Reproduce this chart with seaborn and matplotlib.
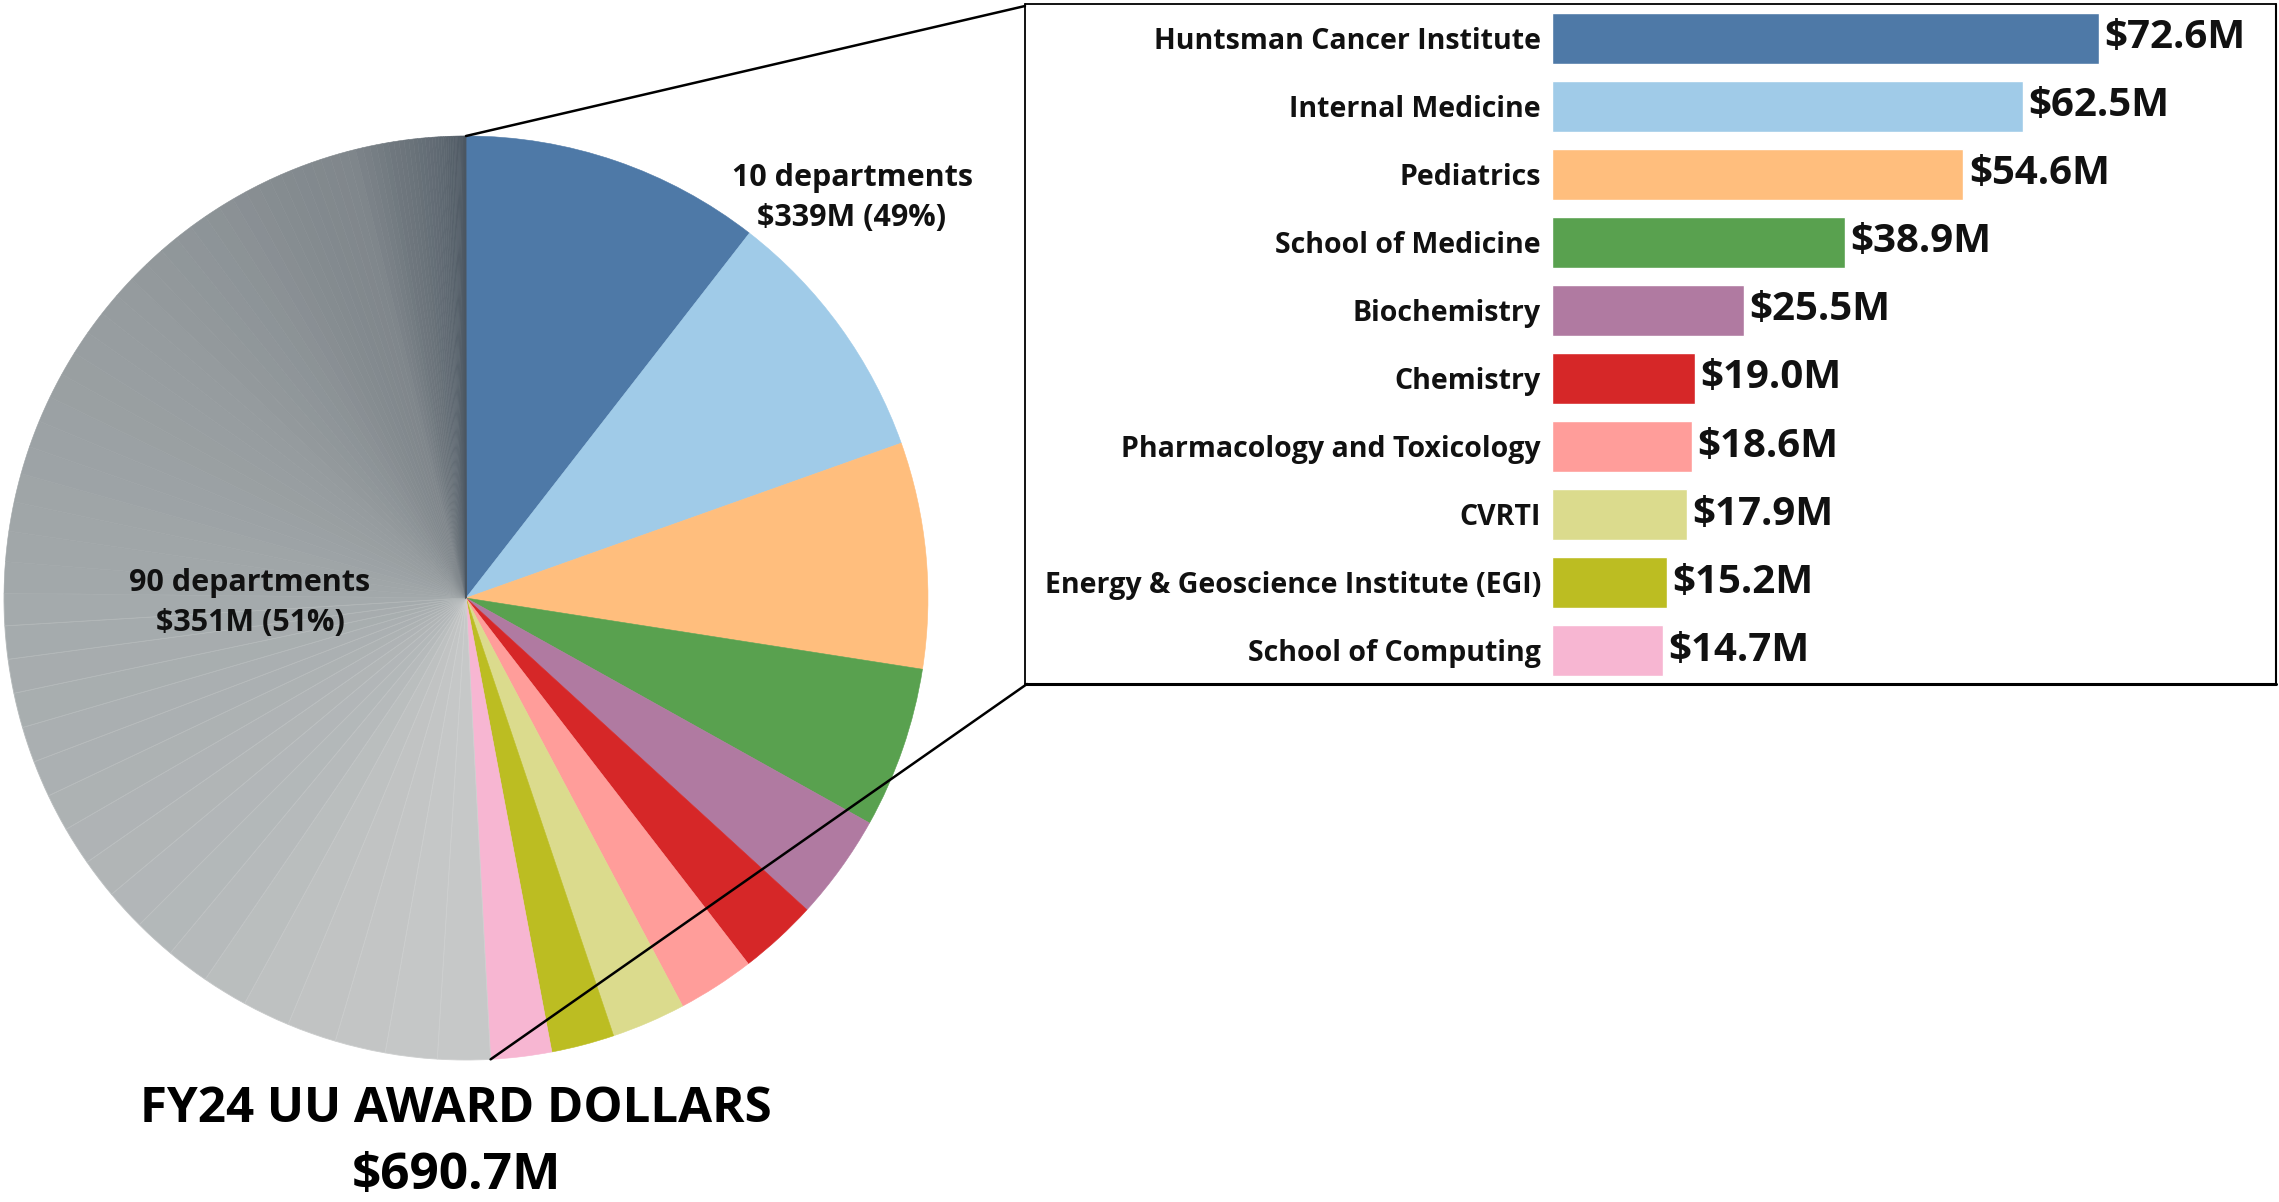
import matplotlib.pyplot as plt
import matplotlib.colors as mcolors
from matplotlib.lines import Line2D
from matplotlib.patches import ConnectionPatch
import numpy as np
import seaborn as sns

W, H = 2279, 1202

# Top 10 departments (award dollars, $M)
departments = [
    "Huntsman Cancer Institute", "Internal Medicine", "Pediatrics",
    "School of Medicine", "Biochemistry", "Chemistry",
    "Pharmacology and Toxicology", "CVRTI",
    "Energy & Geoscience Institute (EGI)", "School of Computing",
]
award_musd = [72.6, 62.5, 54.6, 38.9, 25.5, 19.0, 18.6, 17.9, 15.2, 14.7]
dept_colors = [
    "#4e79a7", "#a0cbe8", "#ffbe7d", "#59a14f", "#b07aa1",
    "#d62728", "#ff9d9a", "#dbdb8d", "#bcbd22", "#f7b6d2",
]

# Remaining 90 departments, sorted descending
other_musd = [
    12.7, 12.5, 12.2, 11.9, 11.5, 11.0, 10.4, 10.0, 9.8, 9.6,
    9.3, 9.0, 8.8, 8.6, 8.4, 8.2, 8.0, 7.8, 7.5, 7.3,
    7.1, 6.9, 6.7, 6.5, 6.3, 6.1, 5.9, 5.8, 5.7, 5.5,
    5.3, 5.0, 4.8, 4.6, 4.4, 4.2, 4.0, 3.8, 3.5, 3.3,
    3.1, 2.9, 2.7, 2.6, 2.5, 2.4, 2.3, 2.2, 2.1, 1.95,
    1.8, 1.7, 1.6, 1.5, 1.4, 1.3, 1.25, 1.2, 1.15, 1.1,
    1.0, 0.95, 0.9, 0.85, 0.8, 0.75, 0.7, 0.65, 0.6, 0.56,
    0.52, 0.48, 0.44, 0.4, 0.37, 0.34, 0.31, 0.28, 0.25, 0.22,
    0.2, 0.18, 0.16, 0.14, 0.12, 0.1, 0.09, 0.08, 0.07, 0.05,
]
# sequential gray scale for the "other" wedges (value -> colour)
gray_stops = [
    (0.00, "#4b5661"), (0.04, "#5d6770"), (0.15, "#7f868b"),
    (0.43, "#969c9f"), (0.60, "#a3a9ab"), (1.00, "#c6c8c8"),
]

sns.set_theme(style="white")
plt.rcParams["font.family"] = ["Open Sans", "DejaVu Sans"]


def px_box(x0, y0, x1, y1):
    """Pixel box (top-left origin) -> figure fraction rect."""
    return [x0 / W, 1 - y1 / H, (x1 - x0) / W, (y1 - y0) / H]


fig = plt.figure(figsize=(W / 100, H / 100), dpi=100)
fig.patch.set_facecolor("white")

# ---------------- pie ----------------
ax_pie = fig.add_axes(px_box(4, 136, 928, 1060))

gray_cmap = mcolors.LinearSegmentedColormap.from_list("grays", gray_stops)
gray_norm = mcolors.Normalize(vmin=min(other_musd), vmax=max(other_musd))
gray_colors = [gray_cmap(gray_norm(v)) for v in other_musd]

wedges, _ = ax_pie.pie(
    award_musd + other_musd,
    colors=dept_colors + gray_colors,
    startangle=90,
    counterclock=False,
    radius=1.0,
)
n_top = len(award_musd)
for i, w in enumerate(wedges):
    fc = np.array(w.get_facecolor())
    if i >= n_top and other_musd[i - n_top] >= 7.8:
        # faint light seam between the larger gray wedges
        ec = fc.copy()
        ec[:3] = ec[:3] + (1 - ec[:3]) * 0.15
        w.set_edgecolor(ec)
        w.set_linewidth(0.6)
    else:
        w.set_edgecolor(fc)
        w.set_linewidth(0.4)
ax_pie.set_xlim(-1, 1)
ax_pie.set_ylim(-1, 1)
ax_pie.set_aspect("equal")
ax_pie.axis("off")

top_total = sum(award_musd)
other_total = sum(other_musd)
grand_total = top_total + other_total

label_kw = dict(ha="center", va="center", fontsize=22, fontweight="bold",
                linespacing=1.45, color="#111111")
fig.text(852 / W, 1 - 198 / H,
         f"{len(award_musd)} departments\n${int(top_total)}M ({top_total / grand_total * 100:.0f}%)",
         **label_kw)
fig.text(250 / W, 1 - 603 / H,
         f"{len(other_musd)} departments\n${int(other_total)}M ({other_total / grand_total * 100:.0f}%)",
         **label_kw)

fig.text(456 / W, 1 - 1109 / H, "FY24 UU AWARD DOLLARS",
         ha="center", va="center", fontsize=35.5, fontweight="bold", color="black")
fig.text(456 / W, 1 - 1176 / H, f"${grand_total:.1f}M",
         ha="center", va="center", fontsize=37, fontweight="bold", color="black")

# ---------------- bars ----------------
BOX = (1025, 4, 2276, 684)
ax_bar = fig.add_axes(px_box(1552, BOX[1], BOX[2], BOX[3]))
sns.barplot(
    x=award_musd, y=departments, hue=departments, palette=dept_colors,
    legend=False, orient="h", width=0.75, saturation=1, ax=ax_bar,
)
ax_bar.set_xlim(0, 96.1)
ax_bar.set_ylim(len(departments) - 0.5, -0.5)
ax_bar.set_xlabel("")
ax_bar.set_ylabel("")
ax_bar.set_xticks([])
ax_bar.tick_params(axis="y", length=0, pad=8)
for lab in ax_bar.get_yticklabels():
    lab.set_fontsize(20.5)
    lab.set_fontweight("bold")
    lab.set_color("#111111")
for c in ax_bar.containers:
    ax_bar.bar_label(c, fmt="${:.1f}M", padding=4, fontsize=29,
                     fontweight="bold", color="#111111")
sns.despine(ax=ax_bar, left=True, bottom=True)
ax_bar.patch.set_alpha(0)

# frame around the bar panel
x0, y0, x1, y1 = BOX
for (xa, ya, xb, yb, lw) in [
    (x0, y0, x1, y0, 1.3), (x0, y0, x0, y1, 1.3),
    (x0, y1, x1, y1, 2.2), (x1, y0, x1, y1, 1.5),
]:
    fig.add_artist(Line2D([xa / W, xb / W], [1 - ya / H, 1 - yb / H],
                          transform=fig.transFigure, color="black", lw=lw))

# connector lines from the coloured wedge edges to the bar panel
end_ang = np.deg2rad(90 - 360 * top_total / grand_total)
for xy_pie, xy_box in [((0.0, 1.0), (x0, y0 + 2)),
                       ((np.cos(end_ang), np.sin(end_ang)), (x0 + 2, y1))]:
    con = ConnectionPatch(
        xyA=xy_pie, coordsA=ax_pie.transData,
        xyB=(xy_box[0] / W, 1 - xy_box[1] / H), coordsB=fig.transFigure,
        color="black", lw=1.8,
    )
    fig.add_artist(con)

fig.savefig("out.png", dpi=100, facecolor="white")
